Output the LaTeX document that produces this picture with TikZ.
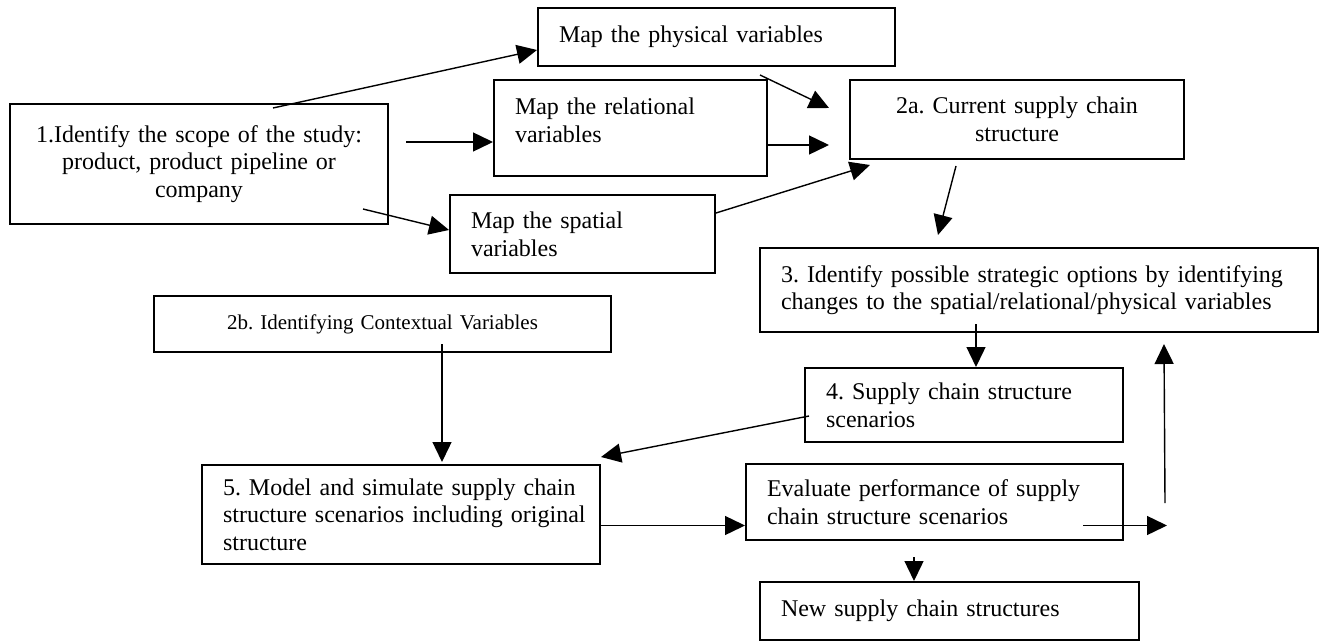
\documentclass[tikz,border=0pt]{standalone}
\usepackage{fontspec}
\setmainfont{Liberation Serif}
\usetikzlibrary{arrows.meta}
\frenchspacing

\begin{document}
\begin{tikzpicture}[x=0.5pt, y=-0.5pt,
    box/.style={draw, line width=1pt, inner ysep=0pt, inner xsep=10.5pt,
      font=\fontsize{12}{13.8}\selectfont},
    lbox/.style={box, align=left},
    cbox/.style={box, align=center},
    arr/.style={line width=0.7pt, -{Triangle[length=10pt,width=9.5pt]}}]
  \useasboundingbox (0,0) rectangle (1327,642);
  \node[cbox, minimum width=189pt, minimum height=60pt, text width=168pt] (scope) at (199,164)
    {1.Identify the scope of the study:\\product, product pipeline or\\company};
  \node[lbox, minimum width=178.5pt, minimum height=29pt, text width=157.5pt] (phys) at (716.5,37)
    {Map the physical variables};
  \node[lbox, minimum width=136.5pt, minimum height=48pt, text width=115.5pt] (rel) at (630.5,128)
    {Map the relational\\variables\\[-5.8pt]\mbox{}};
  \node[lbox, minimum width=132.5pt, minimum height=39pt, text width=111.5pt] (spat) at (582.5,234)
    {Map the spatial\\variables};
  \node[cbox, minimum width=167pt, minimum height=39.5pt, text width=146pt] (cur) at (1017,119.5)
    {2a. Current supply chain\\structure};
  \node[cbox, minimum width=228.5pt, minimum height=28pt, text width=207.5pt,
    font=\fontsize{10.5}{12}\selectfont] (ctx) at (382.5,324)
    {2b. Identifying Contextual Variables};
  \node[lbox, minimum width=279pt, minimum height=42pt, text width=258pt] (opt) at (1039,290)
    {3. Identify possible strategic options by identifying\\changes to the spatial/relational/physical variables};
  \node[lbox, minimum width=159pt, minimum height=37pt, text width=138pt] (scen) at (964,405)
    {4. Supply chain structure\\scenarios};
  \node[lbox, minimum width=199pt, minimum height=49.5pt, text width=178pt] (sim) at (401,514.5)
    {5. Model and simulate supply chain\\\mbox{structure scenarios including original}\\structure};
  \node[lbox, minimum width=188.5pt, minimum height=38pt, text width=167.5pt] (eval) at (934.5,502)
    {Evaluate performance of supply\\chain structure scenarios};
  \node[lbox, minimum width=189.5pt, minimum height=29pt, text width=168.5pt] (new) at (949.5,611)
    {New supply chain structures};

  \draw[arr] ([shift={(74,5)}]scope.north) -- ([shift={(0,13)}]phys.west);
  \draw[arr] ([shift={(17,-22)}]scope.east) -- ([shift={(0,14)}]rel.west);
  \draw[arr] ([shift={(-26,-16)}]scope.south east) -- ([shift={(0,-4)}]spat.west);
  \draw[arr] ([shift={(43.5,8)}]phys.south) -- ([shift={(-20,-11.5)}]cur.west);
  \draw[arr] ([shift={(0,17)}]rel.east) -- ([shift={(-20,25.5)}]cur.west);
  \draw[arr] ([shift={(0,-21)}]spat.east) -- ([shift={(21,5)}]cur.south west);
  \draw[arr] ([shift={(-61,6)}]cur.south) -- ([shift={(-101,-12)}]opt.north);
  \draw[arr] ([shift={(-63,-9)}]opt.south) -- ([shift={(12,0)}]scen.north);
  \draw[arr] ([shift={(5,11)}]scen.west) -- ([shift={(0,-7)}]sim.north east);
  \draw[arr] ([shift={(59.5,-9)}]ctx.south) -- ([shift={(41,-2)}]sim.north);
  \draw[arr] ([shift={(0,11)}]sim.east) -- ([shift={(0,23.5)}]eval.west);
  \draw[arr] ([shift={(-41,23.5)}]eval.east) -- ([shift={(43,23.5)}]eval.east);
  \draw[arr] ([shift={(41,1)}]eval.east) -- ([shift={(125,11)}]opt.south);
  \draw[arr] ([shift={(-20.5,16)}]eval.south) -- ([shift={(-35.5,0)}]new.north);
\end{tikzpicture}
\end{document}
